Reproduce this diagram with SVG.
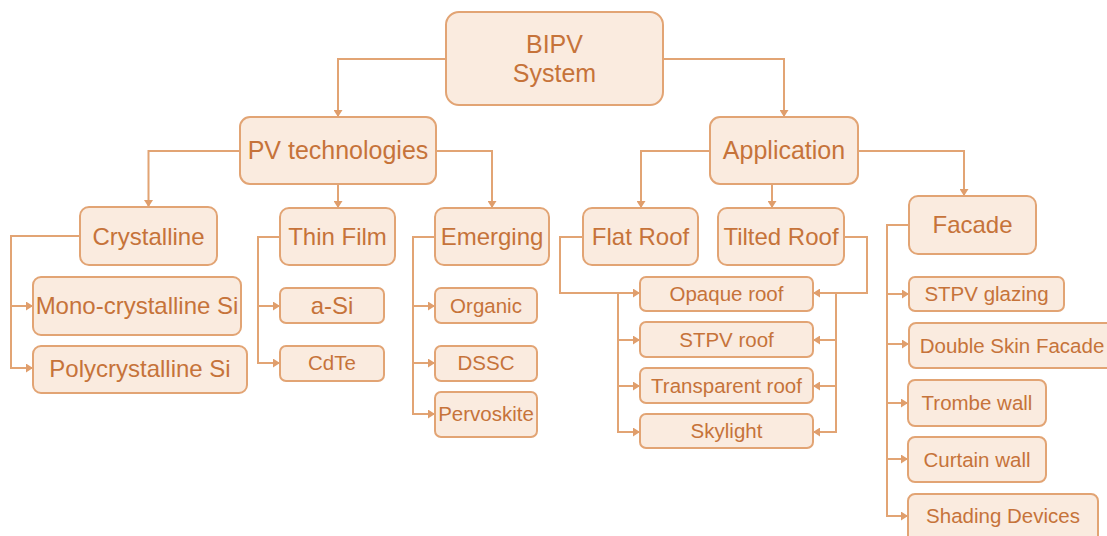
<svg xmlns="http://www.w3.org/2000/svg" width="1107" height="536" viewBox="0 0 1107 536">
  <defs>
    <style>
      .box { fill: #FAEBDF; stroke: #E2A474; stroke-width: 2; }
      .t { font-family: "Liberation Sans", Arial, sans-serif; fill: #C6733A; text-anchor: middle; }
      .xl { font-size: 25px; }
      .l { font-size: 24px; }
      .s { font-size: 20.5px; }
      .link { fill: none; stroke: #E2A474; stroke-width: 2; marker-end: url(#arrow); }
    </style>
    <marker id="arrow" viewBox="0 0 7 9" refX="7" refY="4.5" markerWidth="7" markerHeight="9" markerUnits="userSpaceOnUse" orient="auto">
      <path d="M0,0 L7,4.5 L0,9 Z" fill="#E09E6C"/>
    </marker>
  </defs>
  <rect width="1107" height="536" fill="#ffffff"/>

  <!-- connectors -->
  <g id="connectors">
    <path class="link" d="M446,59 H338 V117"/>
    <path class="link" d="M663,59 H784 V117"/>
    <path class="link" d="M240,151 H148.5 V207"/>
    <path class="link" d="M338,184 V208"/>
    <path class="link" d="M436,151 H492 V208"/>
    <path class="link" d="M710,151 H641 V208"/>
    <path class="link" d="M772,184 V208"/>
    <path class="link" d="M858,151 H964 V196"/>
    <!-- crystalline branch -->
    <path class="link" d="M80,236 H11 V368 H33"/>
    <path class="link" d="M11,306 H33"/>
    <!-- thin film branch -->
    <path class="link" d="M280,237 H258 V363 H280"/>
    <path class="link" d="M258,306 H280"/>
    <!-- emerging branch -->
    <path class="link" d="M435,237 H413 V414 H435"/>
    <path class="link" d="M413,306 H435"/>
    <path class="link" d="M413,363 H435"/>
    <!-- flat roof branch -->
    <path class="link" d="M583,237 H560 V293 H640"/>
    <path class="link" d="M618,293 V432 H640"/>
    <path class="link" d="M618,340 H640"/>
    <path class="link" d="M618,386 H640"/>
    <!-- tilted roof branch -->
    <path class="link" d="M844,237 H867 V293 H813"/>
    <path class="link" d="M836,293 V432 H813"/>
    <path class="link" d="M836,340 H813"/>
    <path class="link" d="M836,386 H813"/>
    <!-- facade branch -->
    <path class="link" d="M909,225 H887 V516 H908"/>
    <path class="link" d="M887,294 H909"/>
    <path class="link" d="M887,344 H909"/>
    <path class="link" d="M887,403 H908"/>
    <path class="link" d="M887,459 H908"/>
  </g>

  <!-- level 0 -->
  <g id="bipv">
    <rect class="box" x="446" y="12" width="217" height="93" rx="13"/>
    <text class="t xl" x="554.5" y="53">BIPV</text>
    <text class="t xl" x="554.5" y="82">System</text>
  </g>

  <!-- level 1 -->
  <g id="pv-technologies">
    <rect class="box" x="240" y="117" width="196" height="67" rx="10"/>
    <text class="t xl" x="338" y="159">PV technologies</text>
  </g>
  <g id="application">
    <rect class="box" x="710" y="117" width="148" height="67" rx="10"/>
    <text class="t xl" x="784" y="159">Application</text>
  </g>

  <!-- level 2 -->
  <g id="crystalline">
    <rect class="box" x="80" y="207" width="137" height="58" rx="9"/>
    <text class="t l" x="148.5" y="245">Crystalline</text>
  </g>
  <g id="thin-film">
    <rect class="box" x="280" y="208" width="115" height="57" rx="9"/>
    <text class="t l" x="337.5" y="245">Thin Film</text>
  </g>
  <g id="emerging">
    <rect class="box" x="435" y="208" width="114" height="57" rx="9"/>
    <text class="t l" x="492" y="245">Emerging</text>
  </g>
  <g id="flat-roof">
    <rect class="box" x="583" y="208" width="115" height="57" rx="9"/>
    <text class="t l" x="640.5" y="245">Flat Roof</text>
  </g>
  <g id="tilted-roof">
    <rect class="box" x="718" y="208" width="126" height="57" rx="9"/>
    <text class="t l" x="781" y="245">Tilted Roof</text>
  </g>
  <g id="facade">
    <rect class="box" x="909" y="196" width="127" height="58" rx="9"/>
    <text class="t l" x="972.5" y="233">Facade</text>
  </g>

  <!-- crystalline leaves -->
  <g id="mono-si">
    <rect class="box" x="33" y="277" width="208" height="58" rx="8"/>
    <text class="t l" x="137" y="314">Mono-crystalline Si</text>
  </g>
  <g id="poly-si">
    <rect class="box" x="33" y="346" width="214" height="47" rx="8"/>
    <text class="t l" x="140" y="377">Polycrystalline Si</text>
  </g>

  <!-- thin film leaves -->
  <g id="a-si">
    <rect class="box" x="280" y="288" width="104" height="35" rx="6"/>
    <text class="t l" x="332" y="314">a-Si</text>
  </g>
  <g id="cdte">
    <rect class="box" x="280" y="346" width="104" height="35" rx="6"/>
    <text class="t s" x="332" y="370">CdTe</text>
  </g>

  <!-- emerging leaves -->
  <g id="organic">
    <rect class="box" x="435" y="288" width="102" height="35" rx="6"/>
    <text class="t s" x="486" y="313">Organic</text>
  </g>
  <g id="dssc">
    <rect class="box" x="435" y="346" width="102" height="35" rx="6"/>
    <text class="t s" x="486" y="370">DSSC</text>
  </g>
  <g id="pervoskite">
    <rect class="box" x="435" y="392" width="102" height="45" rx="6"/>
    <text class="t s" x="486" y="421">Pervoskite</text>
  </g>

  <!-- roof leaves -->
  <g id="opaque-roof">
    <rect class="box" x="640" y="277" width="173" height="34" rx="6"/>
    <text class="t s" x="726.5" y="301">Opaque roof</text>
  </g>
  <g id="stpv-roof">
    <rect class="box" x="640" y="322" width="173" height="35" rx="6"/>
    <text class="t s" x="726.5" y="347">STPV roof</text>
  </g>
  <g id="transparent-roof">
    <rect class="box" x="640" y="368" width="173" height="35" rx="6"/>
    <text class="t s" x="726.5" y="393">Transparent roof</text>
  </g>
  <g id="skylight">
    <rect class="box" x="640" y="414" width="173" height="34" rx="6"/>
    <text class="t s" x="726.5" y="438">Skylight</text>
  </g>

  <!-- facade leaves -->
  <g id="stpv-glazing">
    <rect class="box" x="909" y="277" width="155" height="34" rx="6"/>
    <text class="t s" x="986.5" y="301">STPV glazing</text>
  </g>
  <g id="double-skin-facade">
    <rect class="box" x="909" y="323" width="206" height="45" rx="7"/>
    <text class="t s" x="1012" y="353">Double Skin Facade</text>
  </g>
  <g id="trombe-wall">
    <rect class="box" x="908" y="380" width="138" height="46" rx="7"/>
    <text class="t s" x="977" y="410">Trombe wall</text>
  </g>
  <g id="curtain-wall">
    <rect class="box" x="908" y="437" width="138" height="45" rx="7"/>
    <text class="t s" x="977" y="467">Curtain wall</text>
  </g>
  <g id="shading-devices">
    <rect class="box" x="908" y="494" width="190" height="52" rx="7"/>
    <text class="t s" x="1003" y="523">Shading Devices</text>
  </g>
</svg>
